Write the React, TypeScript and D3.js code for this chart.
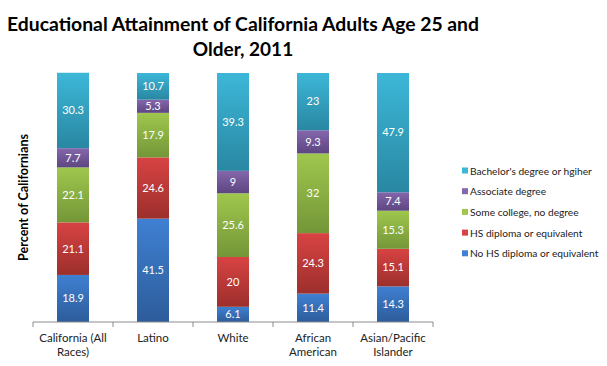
import * as d3 from "d3";

const categories = ["California (All Races)", "Latino", "White", "African American", "Asian/Pacific Islander"];
const categoryLines = [["California (All", "Races)"], ["Latino"], ["White"], ["African", "American"], ["Asian/Pacific", "Islander"]];

// series, bottom of the stack first
const seriesNames = [
  "No HS diploma or equivalent",
  "HS diploma or equivalent",
  "Some college, no degree",
  "Associate degree",
  "Bachelor's degree or hgiher",
];
const noDiploma = [18.9, 41.5, 6.1, 11.4, 14.3];
const hsDiploma = [21.1, 24.6, 20, 24.3, 15.1];
const someCollege = [22.1, 17.9, 25.6, 32, 15.3];
const associate = [7.7, 5.3, 9, 9.3, 7.4];
const bachelor = [30.3, 10.7, 39.3, 23, 47.9];

const colors = [
  ["#3f80d2", "#2d5c9a"],
  ["#d84343", "#9c2f2c"],
  ["#9fc74d", "#749638"],
  ["#8467ac", "#5d4680"],
  ["#3db7d8", "#2987a2"],
];

const width = 607;
const height = 366;
const margin = { top: 73, right: 174, bottom: 44, left: 33 };

export default function App() {
  const rows = categories.map((c, i) => ({
    cat: c,
    v0: noDiploma[i],
    v1: hsDiploma[i],
    v2: someCollege[i],
    v3: associate[i],
    v4: bachelor[i],
  }));
  const stack = d3.stack<any>().keys(["v0", "v1", "v2", "v3", "v4"])(rows);

  const x = d3
    .scaleBand()
    .domain(categories)
    .range([margin.left, width - margin.right])
    .paddingInner(0.6)
    .paddingOuter(0.3);
  const y = d3
    .scaleLinear()
    .domain([0, 100])
    .range([height - margin.bottom, margin.top]);

  const step = x.step();
  const axisStart = x(categories[0])! - (step - x.bandwidth()) / 2;
  const font = "Lato, 'Liberation Sans', sans-serif";

  return (
    <svg width={width} height={height} style={{ position: "absolute", left: 0, top: 0, background: "#fff" }}>
      <defs>
        {colors.map((c, i) => (
          <linearGradient key={i} id={`g${i}`} x1="0" y1="0" x2="0" y2="1">
            <stop offset="0" stopColor={c[0]} />
            <stop offset="1" stopColor={c[1]} />
          </linearGradient>
        ))}
      </defs>

      <text x={243} y={31} textAnchor="middle" fontFamily={font} fontWeight="bold" fontSize={19} textLength={472} lengthAdjust="spacingAndGlyphs">
        Educational Attainment of California Adults Age 25 and
      </text>
      <text x={243} y={56} textAnchor="middle" fontFamily={font} fontWeight="bold" fontSize={19}>
        Older, 2011
      </text>

      <text
        transform={`translate(28,${y(50)}) rotate(-90)`}
        textAnchor="middle"
        fontFamily={font}
        fontWeight="bold"
        fontSize={13.5}
        textLength={127}
        lengthAdjust="spacingAndGlyphs"
      >
        Percent of Californians
      </text>

      {stack.map((layer, si) => (
        <g key={si}>
          {layer.map((d, ci) => (
            <g key={ci}>
              <rect
                x={x(categories[ci])}
                y={y(d[1])}
                width={x.bandwidth()}
                height={y(d[0]) - y(d[1])}
                fill={`url(#g${si})`}
              />
              <text
                x={x(categories[ci])! + x.bandwidth() / 2}
                y={(y(d[0]) + y(d[1])) / 2}
                dy="0.35em"
                textAnchor="middle"
                fill="#fff"
                fontFamily={font}
                fontSize={11}
              >
                {String(+(d[1] - d[0]).toFixed(1))}
              </text>
            </g>
          ))}
        </g>
      ))}

      <line x1={axisStart} x2={axisStart + step * categories.length} y1={y(0)} y2={y(0)} stroke="#8c8c8c" />
      {d3.range(categories.length + 1).map((i) => (
        <line key={i} x1={axisStart + step * i} x2={axisStart + step * i} y1={y(0)} y2={y(0) + 5} stroke="#8c8c8c" />
      ))}

      {categoryLines.map((lines, i) => (
        <text key={i} textAnchor="middle" fontFamily={font} fontSize={11.5} fill="#222">
          {lines.map((l, j) => (
            <tspan key={j} x={x(categories[i])! + x.bandwidth() / 2} y={342 + j * 14}>
              {l}
            </tspan>
          ))}
        </text>
      ))}

      {seriesNames
        .map((n, i) => ({ n, i }))
        .reverse()
        .map(({ n, i }, k) => (
          <g key={n} transform={`translate(462,${171 + k * 20.7})`}>
            <rect x={0} y={-3.5} width={6} height={6} fill={colors[i][0]} />
            <text x={8} dy="0.35em" fontFamily={font} fontSize={10.2} fill="#222">
              {n}
            </text>
          </g>
        ))}
    </svg>
  );
}
